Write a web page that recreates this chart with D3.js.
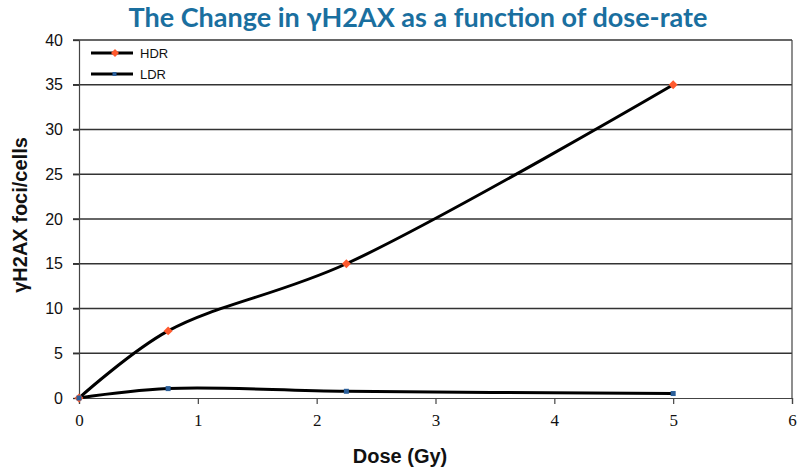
<!DOCTYPE html>
<html><head><meta charset="utf-8">
<script src="https://cdn.jsdelivr.net/npm/d3@7"></script>
<style>body{margin:0;background:#fff}</style>
</head><body>
<script>
const doses = [0, 0.75, 2.25, 5];
const hdrValues = [0, 7.5, 15, 35];
const ldrValues = [0, 1.05, 0.75, 0.5];
const xTicks = [0, 1, 2, 3, 4, 5, 6];
const yTicks = [0, 5, 10, 15, 20, 25, 30, 35, 40];
const seriesNames = ["HDR", "LDR"];

const W = 800, H = 476;
const svg = d3.select("body").append("svg").attr("width", W).attr("height", H);
const x = d3.scaleLinear().domain([0, 6]).range([79, 792]);
const y = d3.scaleLinear().domain([0, 40]).range([398, 40]);

// title
svg.append("text").attr("x", 418).attr("y", 27).attr("text-anchor", "middle")
  .attr("font-family", "Lato, 'Open Sans', sans-serif").attr("font-weight", "bold")
  .attr("font-size", 27).attr("fill", "#1a6f9f")
  .text("The Change in γH2AX as a function of dose-rate");

// gridlines
svg.append("g").selectAll("line").data(yTicks.filter(d => d > 0)).join("line")
  .attr("x1", x(0) - 6).attr("x2", x(6)).attr("y1", d => y(d)).attr("y2", d => y(d))
  .attr("stroke", "#333").attr("stroke-width", 1.3);

// y axis
const yAxis = svg.append("g").attr("transform", `translate(${x(0)},0)`)
  .call(d3.axisLeft(y).tickValues(yTicks).tickSize(6).tickPadding(10));
yAxis.select(".domain").attr("stroke", "#444").attr("stroke-width", 1.2);
yAxis.selectAll(".tick line").attr("stroke", "#333").attr("stroke-width", 1.3);
yAxis.selectAll("text").attr("font-family", "'Liberation Sans', Arial, sans-serif")
  .attr("font-size", 16).attr("fill", "#111");

// x axis
const xAxis = svg.append("g").attr("transform", `translate(0,${y(0)})`)
  .call(d3.axisBottom(x).tickValues(xTicks).tickFormat(d3.format("d")).tickSize(6).tickPadding(10));
xAxis.select(".domain").attr("stroke", "#444").attr("stroke-width", 1.2);
xAxis.selectAll(".tick line").attr("stroke", "#444").attr("stroke-width", 1.2);
xAxis.selectAll("text").attr("font-family", "'Liberation Serif', 'Times New Roman', serif")
  .attr("font-size", 17).attr("fill", "#111");

// right border
svg.append("line").attr("x1", x(6)).attr("x2", x(6)).attr("y1", y(40)).attr("y2", y(0))
  .attr("stroke", "#444").attr("stroke-width", 1.2);

// axis labels
svg.append("text").attr("x", 400).attr("y", 463).attr("text-anchor", "middle")
  .attr("font-family", "'Liberation Sans', Arial, sans-serif").attr("font-weight", "bold")
  .attr("font-size", 20).attr("fill", "#111").text("Dose (Gy)");
svg.append("text").attr("transform", "translate(27,215) rotate(-90)").attr("text-anchor", "middle")
  .attr("font-family", "'Liberation Sans', Arial, sans-serif").attr("font-weight", "bold")
  .attr("font-size", 20).attr("fill", "#111").text("γH2AX foci/cells");

const line = d3.line().x(d => x(d[0])).y(d => y(d[1])).curve(d3.curveCatmullRom.alpha(0.5));
const hdr = doses.map((d, i) => [d, hdrValues[i]]);
const ldr = doses.map((d, i) => [d, ldrValues[i]]);

svg.append("path").datum(ldr).attr("d", line).attr("fill", "none").attr("stroke", "#000").attr("stroke-width", 3);
svg.append("path").datum(hdr).attr("d", line).attr("fill", "none").attr("stroke", "#000").attr("stroke-width", 3);

const diamond = d3.symbol().type(d3.symbolSquare).size(40);
svg.append("g").selectAll("path").data(hdr).join("path")
  .attr("d", diamond).attr("transform", d => `translate(${x(d[0])},${y(d[1])}) rotate(45)`).attr("fill", "#ff5a2e");
svg.append("g").selectAll("rect").data(ldr).join("rect")
  .attr("x", d => x(d[0]) - 2.5).attr("y", d => y(d[1]) - 2.5).attr("width", 5).attr("height", 5).attr("fill", "#2b5f9a");

// legend
const leg = svg.append("g");
[53, 74].forEach((ly, i) => {
  leg.append("line").attr("x1", 91).attr("x2", 133).attr("y1", ly).attr("y2", ly).attr("stroke", "#000").attr("stroke-width", 3);
  if (i === 0) leg.append("path").attr("d", d3.symbol().type(d3.symbolSquare).size(32)).attr("transform", `translate(115,${ly}) rotate(45)`).attr("fill", "#ff5a2e");
  else leg.append("rect").attr("x", 112.5).attr("y", ly - 2).attr("width", 4).attr("height", 4).attr("fill", "#2b5f9a");
  leg.append("text").attr("x", 140).attr("y", ly + 5).attr("font-family", "'Liberation Sans', Arial, sans-serif")
    .attr("font-size", 13).attr("fill", "#111").text(seriesNames[i]);
});
</script>
</body></html>
